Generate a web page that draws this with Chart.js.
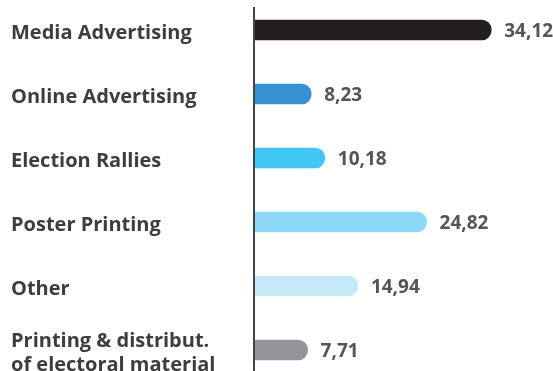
<!DOCTYPE html>
<html>
<head>
<meta charset="utf-8">
<script src="https://cdn.jsdelivr.net/npm/chart.js@4"></script>
<style>
    html, body { margin: 0; padding: 0; background: #ffffff; }
    #wrap { width: 553px; height: 371px; position: relative; }
</style>
</head>
<body>
<div id="wrap"><canvas id="spendChart"></canvas></div>
<script>
// Campaign spending by category
const categories = [
    'Media Advertising',
    'Online Advertising',
    'Election Rallies',
    'Poster Printing',
    'Other',
    ['Printing & distribut.', 'of electoral material']
];
const spending = [34.12, 8.23, 10.18, 24.82, 14.94, 7.71];
const barColors = ['#231f20', '#3591d0', '#40c7f3', '#8dd8f6', '#c6e9f8', '#949598'];

const FONT = "'Open Sans', sans-serif";

// Formats 34.12 as "34,12"
function fmt(v) {
    return v.toFixed(2).replace('.', ',');
}

// Vertical baseline drawn at x = 0
const baselinePlugin = {
    id: 'baseline',
    afterDatasetsDraw(chart) {
        const ctx = chart.ctx;
        const x = chart.scales.x.getPixelForValue(0);
        ctx.save();
        ctx.strokeStyle = '#444444';
        ctx.lineWidth = 2;
        ctx.beginPath();
        ctx.moveTo(x, 7);
        ctx.lineTo(x, chart.height);
        ctx.stroke();
        ctx.restore();
    }
};

// Value text at the end of each bar
const valueLabels = {
    id: 'valueLabels',
    afterDatasetsDraw(chart) {
        const ctx = chart.ctx;
        const meta = chart.getDatasetMeta(0);
        ctx.save();
        ctx.font = "bold 19px " + FONT;
        ctx.fillStyle = '#555555';
        ctx.textAlign = 'left';
        ctx.textBaseline = 'middle';
        meta.data.forEach((bar, i) => {
            ctx.fillText(fmt(spending[i]), bar.x + 13, bar.y + 2);
        });
        ctx.restore();
    }
};

new Chart(document.getElementById('spendChart'), {
    type: 'bar',
    data: {
        labels: categories,
        datasets: [{
            data: spending,
            backgroundColor: barColors,
            borderWidth: 0,
            borderRadius: 10,
            borderSkipped: 'start',
            barThickness: 20,
            clip: false
        }]
    },
    options: {
        indexAxis: 'y',
        responsive: true,
        maintainAspectRatio: false,
        animation: false,
        layout: {
            padding: { top: 30, bottom: 21, left: 11, right: 0 }
        },
        plugins: {
            legend: { display: false },
            tooltip: { enabled: false }
        },
        scales: {
            x: {
                display: false,
                min: 0,
                max: 43
            },
            y: {
                offset: false,
                grid: { display: false, drawTicks: false },
                border: { display: false },
                afterFit(scale) { scale.width = 243; },
                ticks: {
                    crossAlign: 'far',
                    labelOffset: 3,
                    color: '#3d3d3d',
                    font: { family: FONT, size: 20, weight: 'bold', lineHeight: 1.2 }
                }
            }
        }
    },
    plugins: [baselinePlugin, valueLabels]
});
</script>
</body>
</html>
